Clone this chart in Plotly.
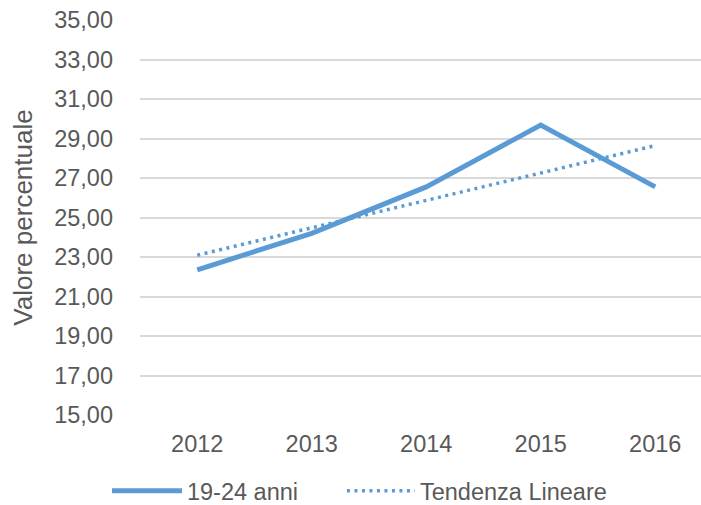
import numpy as np
import plotly.graph_objects as go

years = ["2012", "2013", "2014", "2015", "2016"]
values = [22.35, 24.20, 26.55, 29.68, 26.55]
series_name = "19-24 anni"
trend_name = "Tendenza Lineare"
y_title = "Valore percentuale"

# linear trend (least squares, as Excel's linear trendline)
xi = np.arange(len(values))
slope, intercept = np.polyfit(xi, values, 1)
trend = list(intercept + slope * xi)

blue = "#5B9BD5"
txt = "#595959"
font = "Liberation Sans, Arial, sans-serif"
fs = 23.5

fig = go.Figure()
fig.add_trace(go.Scatter(x=years, y=values, mode="lines", name=series_name,
                         line=dict(color=blue, width=5), legend="legend"))
fig.add_trace(go.Scatter(x=years, y=trend, mode="lines", name=trend_name,
                         line=dict(color=blue, width=3.5, dash="3px,4.5px"),
                         legend="legend2"))

leg_common = dict(orientation="h", yref="container", y=0.0713, yanchor="top",
                  xref="container", xanchor="left",
                  font=dict(size=fs, color=txt), bgcolor="rgba(0,0,0,0)")

fig.update_layout(
    width=701, height=505,
    margin=dict(l=140, r=0, t=20, b=90),
    paper_bgcolor="white", plot_bgcolor="white",
    separators=",.",
    font=dict(family=font, size=fs, color=txt),
    showlegend=True,
    legend=dict(x=0.1526, itemwidth=70, **leg_common),
    legend2=dict(x=0.4878, itemwidth=68, **leg_common),
    xaxis=dict(type="category", range=[-0.5, 4.4], showgrid=False, zeroline=False,
               showline=False, ticks="", ticklabelstandoff=12,
               tickfont=dict(size=fs, color=txt)),
    yaxis=dict(range=[15, 35], dtick=2, tick0=15, tickformat=".2f",
               showgrid=True, gridcolor="#D9D9D9", gridwidth=1.5, zeroline=False,
               showline=False, ticks="", ticklabelstandoff=26,
               tickfont=dict(size=fs, color=txt),
               title=dict(text=y_title, font=dict(size=26, color=txt), standoff=14)),
)

fig.write_html("out.html", config={"displayModeBar": False},
               post_script="document.body.style.margin='0';document.body.style.overflow='hidden';")
